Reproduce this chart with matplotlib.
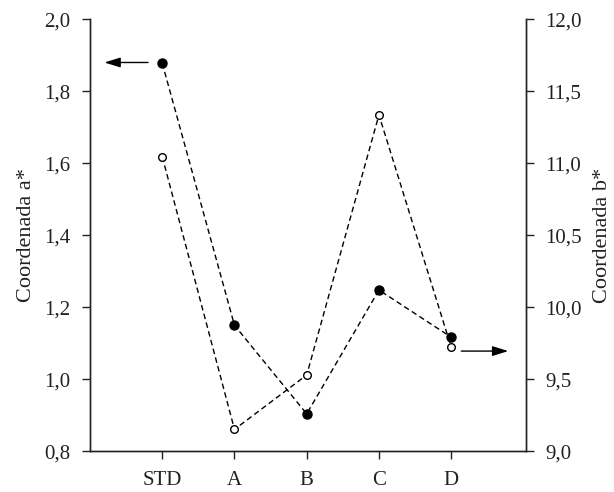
import matplotlib
matplotlib.use("Agg")
import matplotlib.pyplot as plt

categories = ["STD", "A", "B", "C", "D"]
a_star = [1.878, 1.150, 0.904, 1.248, 1.117]
b_star = [11.046, 9.152, 9.530, 11.336, 9.724]
left_ticks = [0.8, 1.0, 1.2, 1.4, 1.6, 1.8, 2.0]
right_ticks = [9.0, 9.5, 10.0, 10.5, 11.0, 11.5, 12.0]

plt.rcParams['font.family'] = ['Liberation Serif', 'DejaVu Serif']

def fmt(v):
    return f"{v:.1f}".replace(".", ",")

fig = plt.figure(figsize=(6.14, 4.92), dpi=100)
ax = fig.add_axes([0.1466, 0.0827, 0.856 - 0.1466, 0.9608 - 0.0827])
ax2 = ax.twinx()

x = list(range(len(categories)))
col = '#222222'
ax.plot(x, a_star, ls=(0, (4, 2.5)), color='black', lw=1.0, marker='o',
        markersize=6.5, markerfacecolor='black', markeredgecolor='black', zorder=3)
ax2.plot(x, b_star, ls=(0, (4, 2.5)), color='black', lw=1.0, marker='o',
         markersize=5.5, markerfacecolor='white', markeredgecolor='black',
         markeredgewidth=1.0, zorder=3)

ax.set_xlim(-1, 5.03)
ax.set_ylim(0.8, 2.0)
ax2.set_ylim(9.0, 12.0)
ax.set_xticks(x)
ax.set_xticklabels(categories)
ax.set_yticks(left_ticks)
ax.set_yticklabels([fmt(v) for v in left_ticks])
ax2.set_yticks(right_ticks)
ax2.set_yticklabels([fmt(v) for v in right_ticks])

for a in (ax, ax2):
    a.spines['top'].set_visible(False)
    for s in a.spines.values():
        s.set_color(col)
        s.set_linewidth(1.0)
    a.tick_params(direction='out', length=6, width=1.0, color=col,
                  labelsize=15, labelcolor='#222222')
ax.tick_params(axis='x', pad=8)
ax.tick_params(axis='y', pad=8)
ax2.tick_params(axis='y', pad=8)

ax.set_ylabel("Coordenada a*", fontsize=16, color='#222222', labelpad=6)
ax2.set_ylabel("Coordenada b*", fontsize=16, color='#222222', labelpad=8)

ax.annotate("", xy=(-0.80, 1.88), xytext=(-0.196, 1.88),
            arrowprops=dict(arrowstyle='-|>,head_length=0.8,head_width=0.25',
                            color='black', lw=1.0,
                            mutation_scale=12, shrinkA=0, shrinkB=0))
ax2.annotate("", xy=(4.79, 9.696), xytext=(4.14, 9.696),
             arrowprops=dict(arrowstyle='-|>,head_length=0.8,head_width=0.25',
                             color='black', lw=1.0,
                             mutation_scale=12, shrinkA=0, shrinkB=0))

fig.savefig("out.png", dpi=100)
